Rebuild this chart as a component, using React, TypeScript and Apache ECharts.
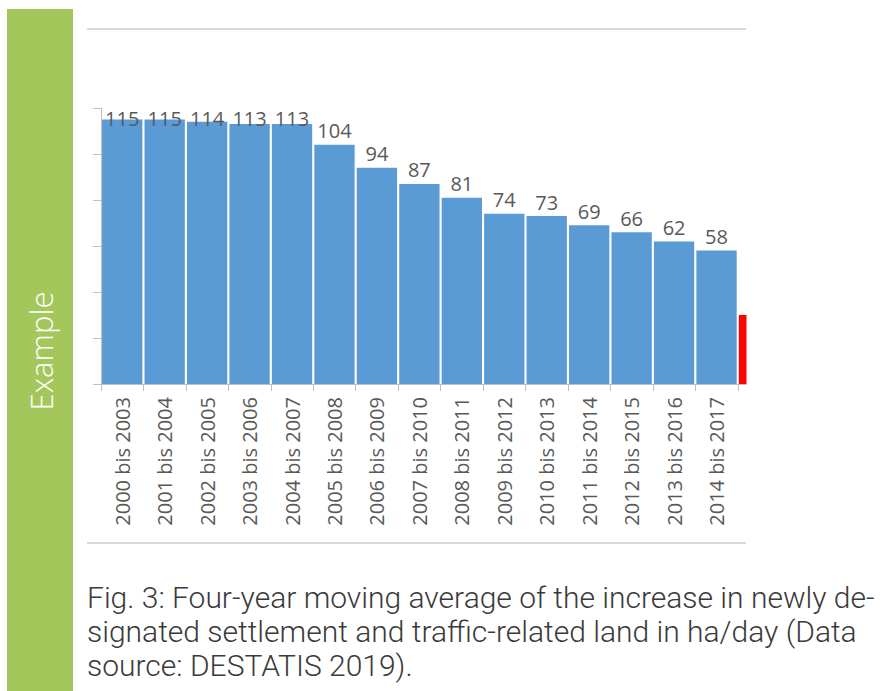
import React, { useEffect, useRef } from "react";
import * as echarts from "echarts";

const categories = [
  "2000 bis 2003", "2001 bis 2004", "2002 bis 2005", "2003 bis 2006", "2004 bis 2007",
  "2005 bis 2008", "2006 bis 2009", "2007 bis 2010", "2008 bis 2011", "2009 bis 2012",
  "2010 bis 2013", "2011 bis 2014", "2012 bis 2015", "2013 bis 2016", "2014 bis 2017",
  "",
];
const values = [115, 115, 114, 113, 113, 104, 94, 87, 81, 74, 73, 69, 66, 62, 58];
const targetValue = 30;
const yTicks = [0, 20, 40, 60, 80, 100, 120];
const captionLines = [
  "Fig. 3: Four-year moving average of the increase in newly de-",
  "signated settlement and traffic-related land in ha/day (Data",
  "source: DESTATIS 2019).",
];
const sideLabel = "Example";

const GRID_LEFT = 101;
const GRID_TOP = 108;
const GRID_H = 276;
const CAT_W = 42.45;
const Y_MAX = yTicks[yTicks.length - 1];
const PX_PER_UNIT = GRID_H / Y_MAX;
const LABEL_CAP = 109.5;

export default function App() {
  const ref = useRef<HTMLDivElement>(null);
  useEffect(() => {
    if (!ref.current) return;
    const chart = echarts.init(ref.current, undefined, { renderer: "svg" });
    const barData = values.map((v) => ({
      value: v,
      label: { offset: [0, Math.max(0, (v - LABEL_CAP) * PX_PER_UNIT)] },
    }));
    const redData: any[] = values.map(() => "-");
    redData.push(targetValue);
    const blueData: any[] = [...barData, "-"];
    chart.setOption({
      animation: false,
      backgroundColor: "#ffffff",
      grid: {
        left: GRID_LEFT,
        top: GRID_TOP,
        width: CAT_W * categories.length,
        height: GRID_H,
        containLabel: false,
      },
      xAxis: {
        type: "category",
        data: categories,
        axisLine: { show: true, lineStyle: { color: "#BFBFBF", width: 1 } },
        axisTick: { show: true, length: 7, lineStyle: { color: "#BFBFBF" } },
        axisLabel: {
          rotate: 90,
          color: "#595959",
          fontFamily: "Open Sans",
          fontSize: 20,
          margin: 13,
          interval: 0,
        },
      },
      yAxis: {
        type: "value",
        min: 0,
        max: Y_MAX,
        interval: 20,
        axisLine: { show: true, lineStyle: { color: "#BFBFBF", width: 1 } },
        axisTick: { show: true, length: 8, lineStyle: { color: "#BFBFBF" } },
        axisLabel: { show: false },
        splitLine: { show: false },
      },
      series: [
        {
          type: "bar",
          data: blueData,
          stack: "s",
          barCategoryGap: "5%",
          itemStyle: { color: "#5B9BD5" },
          label: {
            show: true,
            position: "top",
            distance: 4,
            color: "#595959",
            fontFamily: "Open Sans",
            fontSize: 20,
          },
        },
        {
          type: "bar",
          data: redData,
          stack: "s",
          barCategoryGap: "5%",
          itemStyle: { color: "#FF0000" },
        },
      ],
      graphic: [
        {
          type: "rect",
          shape: { x: 746.5, y: 40, width: 140, height: 500 },
          style: { fill: "#ffffff" },
          z: 100,
        },
        {
          type: "line",
          shape: { x1: 87, y1: 29, x2: 746, y2: 29 },
          style: { stroke: "#D9D9D9", lineWidth: 2 },
          z: 101,
        },
        {
          type: "line",
          shape: { x1: 87, y1: 543, x2: 746, y2: 543 },
          style: { stroke: "#D9D9D9", lineWidth: 2 },
          z: 101,
        },
        {
          type: "rect",
          shape: { x: 7, y: 9, width: 66, height: 700 },
          style: { fill: "#A3C75B" },
          z: 101,
        },
        {
          type: "text",
          x: 41,
          y: 351,
          rotation: Math.PI / 2,
          style: {
            text: sideLabel,
            fill: "#ffffff",
            fontFamily: "Open Sans",
            fontWeight: 300,
            fontSize: 31,
            align: "center",
            verticalAlign: "middle",
          },
          z: 102,
        },
        ...captionLines.map((line, i) => ({
          type: "text",
          x: 87,
          y: 612 + i * 34,
          style: {
            text: line,
            fill: "#3A3A3A",
            fontFamily: "Roboto",
            fontWeight: 300,
            fontSize: 30,
            align: "left",
            verticalAlign: "bottom",
          },
          z: 102,
        })),
      ],
    });
    return () => chart.dispose();
  }, []);
  return (
    <div
      ref={ref}
      style={{ position: "fixed", left: 0, top: 0, width: 882, height: 691 }}
    />
  );
}
